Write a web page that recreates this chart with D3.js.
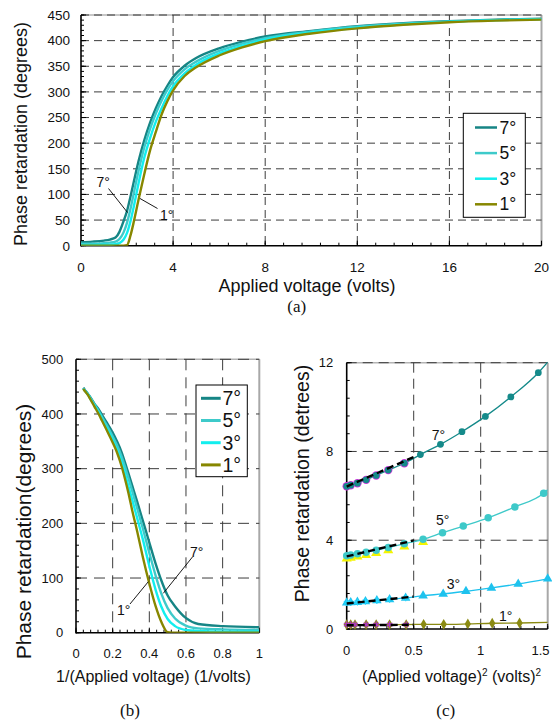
<!DOCTYPE html>
<html><head><meta charset="utf-8">
<script src="https://cdn.jsdelivr.net/npm/d3@7"></script>
<style>
body{margin:0;background:#fff}
svg{display:block}
text{font-family:"Liberation Sans",Arial,sans-serif;fill:#111}
</style>
</head><body>
<svg id="chart" width="552" height="724"></svg>
<script>
// ---------------- DATA ----------------
const angleLabels = ["7°", "5°", "3°", "1°"];
// Panel (a)/(b): applied voltage (volts) and phase retardation (degrees)
const volts = [0, 0.5, 1, 1.25, 1.5, 1.67, 1.85, 2, 2.15, 2.3, 2.5, 2.75, 3, 3.25, 3.5, 3.75, 4, 4.5, 5, 6, 7, 8, 10, 12, 14, 16, 18, 20, 25];
const ret7 = [7, 8, 10, 12, 16, 27, 48, 68, 96, 126, 165, 206, 240, 268, 292, 312, 329, 351, 366, 385, 398, 408, 419, 428, 434, 438, 441, 443, 448];
const ret5 = [4, 4, 5, 6, 8, 13, 26, 45, 72, 104, 146, 192, 228, 258, 283, 304, 321, 344, 359, 380, 394, 405, 418, 427, 433, 437, 440, 442, 447];
const ret3 = [1.5, 1.5, 2, 2, 3, 5, 12, 25, 48, 78, 122, 172, 210, 242, 268, 292, 311, 336, 353, 375, 390, 402, 416, 425, 432, 437, 440, 442, 446];
const ret1 = [0, 0, 0, 0, 0, 0, 0, 1, 20, 48, 90, 140, 186, 222, 256, 282, 303, 331, 348, 371, 387, 399, 414, 424, 431, 436, 439, 441, 446];
const retAll = [ret7, ret5, ret3, ret1];

const aXTicks = [0, 4, 8, 12, 16, 20];
const aYTicks = [0, 50, 100, 150, 200, 250, 300, 350, 400, 450];
const bXTicks = [0, 0.2, 0.4, 0.6, 0.8, 1];
const bYTicks = [0, 100, 200, 300, 400, 500];
const cXTicks = [0, 0.5, 1, 1.5];
const cYTicks = [0, 4, 8, 12];

// Panel (c): (applied voltage)^2 and phase retardation (degrees)
const c7x = [0, 0.03, 0.08, 0.145, 0.22, 0.31, 0.43, 0.55, 0.7, 0.86, 1.035, 1.225, 1.43];
const c7y = [6.43, 6.48, 6.57, 6.72, 6.92, 7.16, 7.47, 7.86, 8.32, 8.89, 9.58, 10.46, 11.55];
const c5x = [0, 0.03, 0.08, 0.145, 0.22, 0.31, 0.43, 0.57, 0.715, 0.87, 1.056, 1.255, 1.47];
const c5y = [3.3, 3.33, 3.39, 3.46, 3.55, 3.67, 3.84, 4.04, 4.34, 4.64, 5.01, 5.5, 6.12];
const c3x = [0, 0.03, 0.08, 0.14, 0.225, 0.32, 0.44, 0.57, 0.72, 0.89, 1.08, 1.28, 1.5];
const c3y = [1.18, 1.19, 1.21, 1.24, 1.28, 1.33, 1.4, 1.5, 1.58, 1.7, 1.85, 2.03, 2.26];
const c1x = [0, 0.03, 0.062, 0.145, 0.22, 0.32, 0.444, 0.574, 0.724, 0.904, 1.086, 1.29];
const c1y = [0.2, 0.2, 0.2, 0.2, 0.2, 0.2, 0.2, 0.21, 0.21, 0.23, 0.26, 0.27];
const cFitEndY = [12.03, 6.28, 2.32, 0.3];           // fitted curves at x = 1.5
// low-voltage second data set (overlay markers)
const cLowN = 7;
const cLowShift = [0, -0.08, 0, 0];
// linear fits over 0..0.5
const cLinX = [0, 0.5];
const cLin7 = [6.42, 7.75];
const cLin5 = [3.27, 3.99];
const cLin3 = [1.15, 1.46];
const cLin1 = [0.17, 0.19];

// ---------------- STYLE ----------------
const colAB = ["#168585", "#3ecaca", "#12eeee", "#878700"];
const colC = ["#158a8a", "#3ec9c9", "#1ec2ee", "#8a8a12"];

const svg = d3.select("#chart");

function panel(o) {
  const g = svg.append("g");
  const x = d3.scaleLinear().domain(o.xd).range([o.l, o.r]);
  const y = d3.scaleLinear().domain(o.yd).range([o.b, o.t]);
  g.append("line").attr("x1", o.l).attr("x2", o.r).attr("y1", o.t).attr("y2", o.t)
    .attr("stroke", "#b4b4b4").attr("stroke-width", 1.6);
  g.append("line").attr("x1", o.r).attr("x2", o.r).attr("y1", o.t).attr("y2", o.b)
    .attr("stroke", "#a8a8a8").attr("stroke-width", 2);
  const gx = o.xt.filter(v => v > o.xd[0] && v < o.xd[1]);
  const gy = o.yt.filter(v => v > o.yd[0]);
  g.selectAll(".gx").data(gx).enter().append("line")
    .attr("x1", d => x(d)).attr("x2", d => x(d)).attr("y1", o.t).attr("y2", o.b)
    .attr("stroke", "#3c3c3c").attr("stroke-width", 1).attr("stroke-dasharray", o.dash);
  g.selectAll(".gy").data(gy).enter().append("line")
    .attr("x1", o.l).attr("x2", o.r).attr("y1", d => y(d)).attr("y2", d => y(d))
    .attr("stroke", "#3c3c3c").attr("stroke-width", 1).attr("stroke-dasharray", o.dash);
  const xm = d3.range(o.xd[0], o.xd[1] + 1e-9, o.xm);
  const ym = d3.range(o.yd[0], o.yd[1] + 1e-9, o.ym);
  g.selectAll(".xm").data(xm).enter().append("line")
    .attr("x1", d => x(d)).attr("x2", d => x(d)).attr("y1", o.b).attr("y2", o.b - 3)
    .attr("stroke", "#000").attr("stroke-width", 1);
  g.selectAll(".ym").data(ym).enter().append("line")
    .attr("x1", o.l).attr("x2", o.l + 3).attr("y1", d => y(d)).attr("y2", d => y(d))
    .attr("stroke", "#000").attr("stroke-width", 1);
  g.selectAll(".xM").data(o.xt).enter().append("line")
    .attr("x1", d => x(d)).attr("x2", d => x(d)).attr("y1", o.b).attr("y2", o.b - 5)
    .attr("stroke", "#000").attr("stroke-width", 1);
  g.selectAll(".yM").data(o.yt).enter().append("line")
    .attr("x1", o.l).attr("x2", o.l + 5).attr("y1", d => y(d)).attr("y2", d => y(d))
    .attr("stroke", "#000").attr("stroke-width", 1);
  g.append("line").attr("x1", o.l).attr("x2", o.l).attr("y1", o.t).attr("y2", o.b + 0.75)
    .attr("stroke", "#000").attr("stroke-width", 1.6);
  g.append("line").attr("x1", o.l).attr("x2", o.r).attr("y1", o.b).attr("y2", o.b)
    .attr("stroke", "#000").attr("stroke-width", 1.6);
  g.selectAll(".xl").data(o.xt).enter().append("text")
    .attr("x", d => Math.min(x(d), o.xlMax || 1e9)).attr("y", o.xlY).attr("text-anchor", "middle")
    .attr("font-size", o.fs).text(d => d);
  g.selectAll(".yl").data(o.yt).enter().append("text")
    .attr("x", o.ylX).attr("y", d => y(d)).attr("dy", "0.36em").attr("text-anchor", "end")
    .attr("font-size", o.fs).text(d => d);
  const id = "clip" + o.name;
  svg.append("clipPath").attr("id", id).append("rect")
    .attr("x", o.l).attr("y", o.t - 1).attr("width", o.r - o.l).attr("height", o.b - o.t + 1);
  return { g, x, y, clip: "url(#" + id + ")" };
}

// ---------------- PANEL (a) ----------------
const A = panel({ name: "a", l: 81, r: 541.5, t: 15, b: 245.7, xd: [0, 20], yd: [0, 450],
  xt: aXTicks, yt: aYTicks, xm: 0.8, ym: 10, dash: "8,5", fs: 13.5, xlY: 272, ylX: 70 });
const lineA = d3.line().x(d => A.x(d[0])).y(d => A.y(d[1])).curve(d3.curveMonotoneX);
retAll.forEach((r, i) => {
  const pts = volts.map((v, k) => [v, r[k]]).filter(d => d[0] <= 20);
  A.g.append("path").attr("d", lineA(pts)).attr("fill", "none")
    .attr("stroke", colAB[i]).attr("stroke-width", 2.4).attr("clip-path", A.clip);
});
A.g.append("line").attr("x1", 108.5).attr("y1", 188.5).attr("x2", 127.5).attr("y2", 212.5).attr("stroke", "#000").attr("stroke-width", 0.9);
A.g.append("line").attr("x1", 157.5).attr("y1", 208.5).attr("x2", 140).attr("y2", 198.5).attr("stroke", "#000").attr("stroke-width", 0.9);
A.g.append("text").attr("x", 96.5).attr("y", 187).attr("font-size", 14).text("7°");
A.g.append("text").attr("x", 160).attr("y", 220).attr("font-size", 14).text("1°");
A.g.append("rect").attr("x", 463.3).attr("y", 113.3).attr("width", 62).attr("height", 104)
  .attr("fill", "#fff").attr("stroke", "#000").attr("stroke-width", 1);
angleLabels.forEach((lab, i) => {
  const ly = 127.5 + i * 25.6;
  A.g.append("line").attr("x1", 475).attr("x2", 497).attr("y1", ly).attr("y2", ly)
    .attr("stroke", colAB[i]).attr("stroke-width", 2.5);
  A.g.append("text").attr("x", 499.5).attr("y", ly + 6).attr("font-size", 17.5).text(lab);
});
svg.append("text").attr("transform", "translate(27,134) rotate(-90)").attr("text-anchor", "middle")
  .attr("font-size", 18).text("Phase retardation (degrees)");
svg.append("text").attr("x", 307).attr("y", 292).attr("text-anchor", "middle")
  .attr("font-size", 18).text("Applied voltage (volts)");
svg.append("text").attr("x", 296.7).attr("y", 312).attr("text-anchor", "middle")
  .attr("font-size", 17).style("font-family", "'Liberation Serif','Times New Roman',serif").text("(a)");

// ---------------- PANEL (b) ----------------
const B = panel({ name: "b", l: 76, r: 259.3, t: 359.3, b: 632.7, xd: [0, 1], yd: [0, 500],
  xt: bXTicks, yt: bYTicks, xm: 0.04, ym: 20, dash: "11,7", fs: 13, xlY: 658, ylX: 63.3 });
const lineB = d3.line().x(d => B.x(d[0])).y(d => B.y(d[1])).curve(d3.curveMonotoneX);
retAll.forEach((r, i) => {
  const pts = volts.map((v, k) => [v, r[k]]).filter(d => d[0] >= 1)
    .map(d => [1 / d[0], d[1]]).sort((p, q) => p[0] - q[0]);
  B.g.append("path").attr("d", lineB(pts)).attr("fill", "none")
    .attr("stroke", colAB[i]).attr("stroke-width", 2.4).attr("clip-path", B.clip);
});
B.g.append("line").attr("x1", 192.7).attr("y1", 556.7).attr("x2", 163.3).attr("y2", 593.3).attr("stroke", "#000").attr("stroke-width", 0.9);
B.g.append("line").attr("x1", 130).attr("y1", 604).attr("x2", 148.3).attr("y2", 581.7).attr("stroke", "#000").attr("stroke-width", 0.9);
B.g.append("text").attr("x", 190).attr("y", 557).attr("font-size", 14).text("7°");
B.g.append("text").attr("x", 117).attr("y", 615).attr("font-size", 14).text("1°");
B.g.append("rect").attr("x", 196).attr("y", 385).attr("width", 51.3).attr("height", 91.7)
  .attr("fill", "#fff").attr("stroke", "#000").attr("stroke-width", 1);
angleLabels.forEach((lab, i) => {
  const ly = 398.3 + i * 22.2;
  B.g.append("line").attr("x1", 201).attr("x2", 220.7).attr("y1", ly).attr("y2", ly)
    .attr("stroke", colAB[i]).attr("stroke-width", 3);
  B.g.append("text").attr("x", 222.5).attr("y", ly + 6.8).attr("font-size", 19.5).text(lab);
});
svg.append("text").attr("transform", "translate(31,531.5) rotate(-90)").attr("text-anchor", "middle")
  .attr("font-size", 21).text("Phase retardation(degrees)");
svg.append("text").attr("x", 153.5).attr("y", 682).attr("text-anchor", "middle")
  .attr("font-size", 16).text("1/(Applied voltage) (1/volts)");
svg.append("text").attr("x", 130).attr("y", 716).attr("text-anchor", "middle")
  .attr("font-size", 17).style("font-family", "'Liberation Serif','Times New Roman',serif").text("(b)");

// ---------------- PANEL (c) ----------------
const C = panel({ name: "c", l: 346.7, r: 547.7, t: 362.7, b: 629, xd: [0, 1.5], yd: [0, 12],
  xt: cXTicks, yt: cYTicks, xm: 0.1, ym: 0.8, dash: "10,6", fs: 13, xlY: 655, ylX: 333.3, xlMax: 540.5 });
const cSets = [[c7x, c7y], [c5x, c5y], [c3x, c3y], [c1x, c1y]];
const cLins = [cLin7, cLin5, cLin3, cLin1];
const lineC = d3.line().x(d => C.x(d[0])).y(d => C.y(d[1])).curve(d3.curveMonotoneX);
const symC = [d3.symbol().type(d3.symbolCircle).size(36), d3.symbol().type(d3.symbolCircle).size(44),
  d3.symbol().type(d3.symbolTriangle).size(40), d3.symbol().type(d3.symbolDiamond).size(34)];
cSets.forEach((s, i) => {
  const pts = s[0].map((v, k) => [v, s[1][k]]).concat([[1.5, cFitEndY[i]]])
    .filter((d, k, arr) => k === 0 || d[0] > arr[k - 1][0]);
  C.g.append("path").attr("d", lineC(pts)).attr("fill", "none")
    .attr("stroke", colC[i]).attr("stroke-width", 1.3).attr("clip-path", C.clip);
});
const low7 = c7x.slice(0, cLowN).map((v, k) => [v, c7y[k]]);
C.g.selectAll(".lo7").data(low7).enter().append("circle")
  .attr("cx", d => C.x(d[0])).attr("cy", d => C.y(d[1])).attr("r", 4.2).attr("fill", "#d830e0");
const low5 = c5x.slice(0, cLowN + 1).map((v, k) => [v, c5y[k] + cLowShift[1]]);
C.g.selectAll(".lo5").data(low5).enter().append("path")
  .attr("d", d3.symbol().type(d3.symbolTriangle).size(44)())
  .attr("transform", d => `translate(${C.x(d[0])},${C.y(d[1]) + 1})`).attr("fill", "#f4f400");
cSets.forEach((s, i) => {
  C.g.selectAll(".m" + i).data(s[0].map((v, k) => [v, s[1][k]])).enter().append("path")
    .attr("d", symC[i]()).attr("transform", d => `translate(${C.x(d[0])},${C.y(d[1])})`)
    .attr("fill", colC[i]);
});
const low3 = c3x.slice(0, cLowN).map((v, k) => [v, c3y[k]]);
C.g.selectAll(".lo3").data(low3).enter().append("path")
  .attr("d", d3.symbol().type(d3.symbolAsterisk).size(30)())
  .attr("transform", d => `translate(${C.x(d[0])},${C.y(d[1])})`)
  .attr("fill", "none").attr("stroke", "#22d8ff").attr("stroke-width", 1.2);
const low1 = c1x.slice(0, cLowN).map((v, k) => [v, c1y[k]]);
C.g.selectAll(".lo1").data(low1).enter().append("path")
  .attr("d", d3.symbol().type(d3.symbolAsterisk).size(30)())
  .attr("transform", d => `translate(${C.x(d[0])},${C.y(d[1])})`)
  .attr("fill", "none").attr("stroke", "#b030d0").attr("stroke-width", 1.1);
cLins.forEach(ln => {
  C.g.append("line").attr("x1", C.x(cLinX[0])).attr("x2", C.x(cLinX[1]))
    .attr("y1", C.y(ln[0])).attr("y2", C.y(ln[1]))
    .attr("stroke", "#000").attr("stroke-width", 2.4).attr("stroke-dasharray", "7,4");
});
[[431.7, 440], [436, 525], [446.7, 589], [499, 620.7]].forEach((p, i) => {
  C.g.append("text").attr("x", p[0]).attr("y", p[1]).attr("font-size", 14).text(angleLabels[i]);
});
svg.append("text").attr("transform", "translate(309,483.5) rotate(-90)").attr("text-anchor", "middle")
  .attr("font-size", 19.5).text("Phase retardation (detrees)");
const xt = svg.append("text").attr("x", 451.5).attr("y", 682).attr("text-anchor", "middle").attr("font-size", 16);
xt.append("tspan").text("(Applied voltage)");
xt.append("tspan").attr("dy", -6).attr("font-size", 10).text("2");
xt.append("tspan").attr("dy", 6).text(" (volts)");
xt.append("tspan").attr("dy", -6).attr("font-size", 10).text("2");
svg.append("text").attr("x", 445.7).attr("y", 716).attr("text-anchor", "middle")
  .attr("font-size", 17).style("font-family", "'Liberation Serif','Times New Roman',serif").text("(c)");
</script>
</body></html>
